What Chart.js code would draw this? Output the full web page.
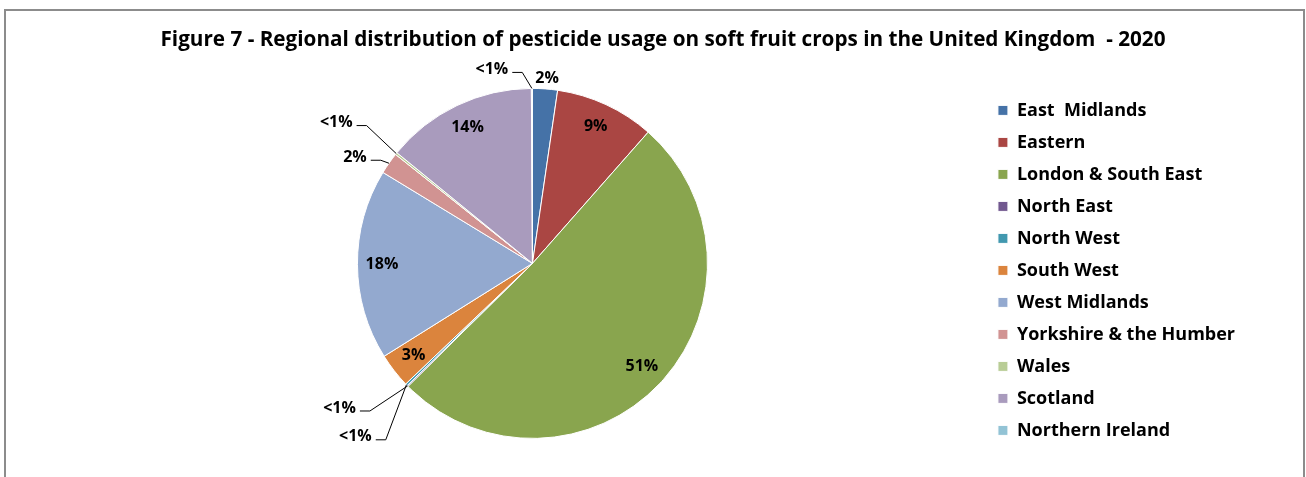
<!DOCTYPE html>
<html>
<head>
<meta charset="utf-8">
<title>Regional distribution of pesticide usage on soft fruit crops</title>
<script src="https://cdn.jsdelivr.net/npm/chart.js@4/dist/chart.umd.min.js"></script>
<style>
  html, body { margin: 0; padding: 0; background: #fff; }
  #wrap { position: relative; width: 1306px; height: 477px; overflow: hidden; }
  #frame { position: absolute; left: 4px; top: 9px; width: 1297px; height: 520px; border: 2px solid #8c8c8c; }
  #pie { position: absolute; left: 0; top: 0; }
</style>
</head>
<body>
<div id="wrap">
  <div id="frame"></div>
  <canvas id="pie" width="1306" height="477"></canvas>
</div>
<script>
var regions = ['East  Midlands', 'Eastern', 'London & South East', 'North East', 'North West',
               'South West', 'West Midlands', 'Yorkshire & the Humber', 'Wales', 'Scotland',
               'Northern Ireland'];
// share of pesticide usage, percent
var usage = [2.3, 9.2, 51.1, 0.1, 0.2, 3.2, 17.6, 2.0, 0.2, 14.0, 0.1];
var colours = ['#4572A7', '#AA4643', '#89A54E', '#71588F', '#4198AF', '#DB843D',
               '#93A9CF', '#D19392', '#B9CD96', '#A99BBD', '#92C3D5'];

var FONT = '"Open Sans", Lato, sans-serif';

// small slices get their label outside, dx/dy = text centre from the slice edge
var callouts = {
  0: { dx: 2, dy: -10, leader: false },
  3: { dx: -68, dy: 22, leader: true },
  4: { dx: -51, dy: 52, leader: true },
  7: { dx: -34, dy: -6, leader: true },
  8: { dx: -60, dy: -31, leader: true },
  10: { dx: -40, dy: -19, leader: true }
};

function pctText(v) {
  return v < 1 ? '<1%' : Math.round(v) + '%';
}

var sliceLabels = {
  id: 'sliceLabels',
  afterDatasetsDraw: function(chart) {
    var ctx = chart.ctx;
    var arcs = chart.getDatasetMeta(0).data;
    ctx.save();
    ctx.font = 'bold 16px ' + FONT;
    ctx.fillStyle = '#000';
    ctx.strokeStyle = '#000';
    ctx.lineWidth = 1;
    ctx.textAlign = 'center';
    ctx.textBaseline = 'middle';
    arcs.forEach(function(arc, i) {
      var p = arc.getProps(['x', 'y', 'startAngle', 'endAngle', 'outerRadius'], true);
      var mid = (p.startAngle + p.endAngle) / 2;
      var txt = pctText(usage[i]);
      var c = callouts[i];
      if (!c) {
        var r = p.outerRadius * 0.86;
        ctx.fillText(txt, p.x + Math.cos(mid) * r, p.y + Math.sin(mid) * r);
        return;
      }
      var ax = p.x + Math.cos(mid) * p.outerRadius;
      var ay = p.y + Math.sin(mid) * p.outerRadius;
      var tx = ax + c.dx, ty = ay + c.dy;
      ctx.fillText(txt, tx, ty);
      if (c.leader) {
        var x0 = tx + ctx.measureText(txt).width / 2 + 4;
        var ly = ty + 3;
        ctx.beginPath();
        ctx.moveTo(x0, ly);
        ctx.lineTo(x0 + 10, ly);
        ctx.lineTo(ax, ay);
        ctx.stroke();
      }
    });
    ctx.restore();
  }
};

new Chart(document.getElementById('pie'), {
  type: 'pie',
  data: {
    labels: regions,
    datasets: [{
      data: usage,
      backgroundColor: colours,
      borderColor: '#ffffff',
      borderWidth: 1
    }]
  },
  options: {
    responsive: false,
    animation: false,
    radius: 175,
    layout: { padding: { left: 81, right: 61, top: 0, bottom: 3 } },
    plugins: {
      title: {
        display: true,
        text: 'Figure 7 - Regional distribution of pesticide usage on soft fruit crops in the United Kingdom  - 2020',
        color: '#000',
        font: { family: FONT, size: 20.7, weight: 'bold' },
        padding: { top: 28, bottom: 0 }
      },
      legend: {
        position: 'right',
        align: 'start',
        // empty title only pushes the entries down
        title: { display: true, text: '', padding: { top: 73, bottom: 0 } },
        labels: {
          boxWidth: 10,
          boxHeight: 10,
          padding: 14,
          color: '#000',
          font: { family: FONT, size: 18, weight: 'bold' }
        }
      },
      tooltip: { enabled: false }
    }
  },
  plugins: [sliceLabels]
});
</script>
</body>
</html>
